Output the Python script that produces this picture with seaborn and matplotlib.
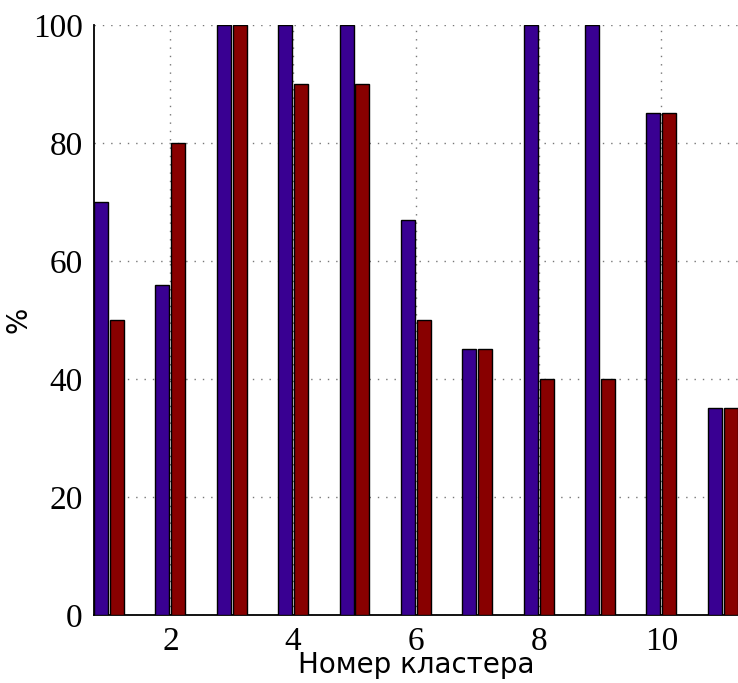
import matplotlib
matplotlib.use("Agg")
import matplotlib.pyplot as plt
import pandas as pd
import seaborn as sns

clusters = list(range(1, 12))
share_a = [70, 56, 100, 100, 100, 67, 45, 100, 100, 85, 35]
share_b = [50, 80, 100, 90, 90, 50, 45, 40, 40, 85, 35]
tick_values = [2, 4, 6, 8, 10]

sns.set_style("white")

df = pd.DataFrame({
    "cluster": clusters * 2,
    "value": share_a + share_b,
    "series": ["a"] * len(clusters) + ["b"] * len(clusters),
})

fig = plt.figure(figsize=(7.38, 6.83), dpi=100)
ax = fig.add_axes([0.127, 0.0996, 0.873, 0.864])

sns.barplot(data=df, x="cluster", y="value", hue="series",
            palette={"a": "#390092", "b": "#880000"}, saturation=1,
            width=0.52, gap=0.12, edgecolor="black", linewidth=1.0,
            legend=False, ax=ax, zorder=3)

ax.set_xlim(-0.25, 10.25)
ax.set_ylim(0, 100)
ax.set_xticks([c - 1 for c in tick_values])
ax.set_xticklabels([str(c) for c in tick_values])
ax.set_yticks([0, 20, 40, 60, 80, 100])

ax.grid(True, linestyle=(0, (1, 5)), color="#777777", linewidth=1.0, zorder=0)
ax.set_axisbelow(True)
for side in ["top", "right"]:
    ax.spines[side].set_visible(False)
for side in ["left", "bottom"]:
    ax.spines[side].set_color("black")
    ax.spines[side].set_linewidth(1.3)

ax.tick_params(axis="both", direction="in", length=5, width=1, color="black",
               labelsize=24, labelcolor="black", pad=8,
               labelfontfamily="Liberation Serif")

ax.set_xlabel("Номер кластера", fontsize=20, family="DejaVu Sans",
              color="black", labelpad=-4)
ax.set_ylabel("%", fontsize=20, family="DejaVu Sans", color="black")
ax.yaxis.set_label_coords(-0.095, 0.5)

fig.savefig("out.png", dpi=100)
